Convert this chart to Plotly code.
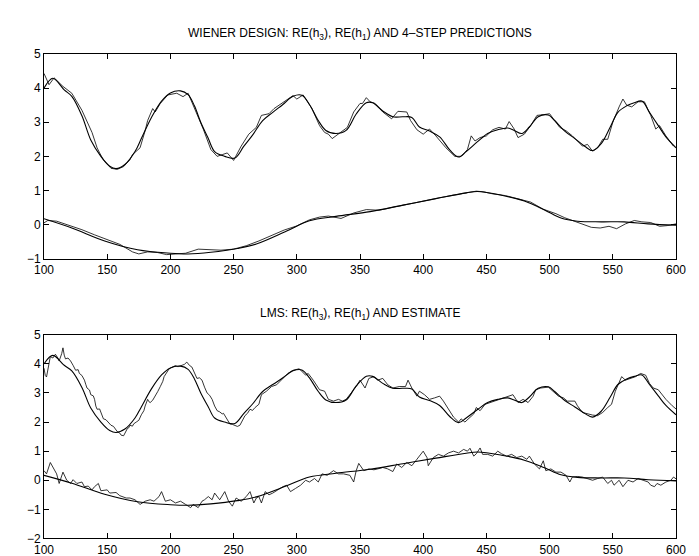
import plotly.graph_objects as go

# ---------------- data ----------------
H3_X = [100,107,116,122,130,137,145,152,157,164,172,177,185,193,200,208,214,219,224,230,235,243,251,258,265,273,281,289,297,304,310,317,323,331,339,347,355,360,368,376,384,391,397,405,413,421,428,434,443,451,459,467,472,478,484,491,499,504,512,520,528,534,541,548,554,561,567,573,579,586,592,600]
H3_Y = [4.00,4.29,3.95,3.76,3.19,2.48,2.00,1.71,1.64,1.76,2.14,2.52,3.14,3.62,3.86,3.92,3.81,3.48,3.00,2.52,2.14,2.00,1.95,2.29,2.62,3.05,3.29,3.52,3.76,3.79,3.52,3.05,2.76,2.67,2.76,3.24,3.57,3.57,3.33,3.16,3.16,3.14,2.86,2.74,2.57,2.19,1.98,2.14,2.43,2.67,2.78,2.83,2.76,2.67,2.86,3.16,3.21,3.05,2.74,2.52,2.29,2.17,2.38,2.86,3.29,3.48,3.57,3.62,3.29,2.90,2.57,2.25]

H1_X = [100,122,148,174,200,214,232,253,268,292,310,331,358,384,410,434,443,462,480,496,509,522,541,559,578,600]
H1_Y = [0.17,-0.10,-0.48,-0.74,-0.84,-0.86,-0.81,-0.70,-0.57,-0.19,0.11,0.24,0.38,0.57,0.76,0.93,0.97,0.86,0.69,0.43,0.19,0.10,0.08,0.08,0.02,-0.02]

# Wiener 4-step predictions
P3_X = [100,104,108,115,122,130,138,142,144,147,153,158,163,168,170,176,180,182,186,188,192,198,205,210,214,220,226,232,237,241,245,250,256,262,268,272,278,282,290,297,300,305,312,318,322,325,328,335,340,345,350,352,355,358,362,368,375,380,387,390,395,400,405,410,418,425,430,435,438,441,445,450,455,460,465,468,472,475,480,485,490,495,500,503,508,513,518,522,526,530,534,538,542,546,550,555,558,561,565,570,575,580,584,587,592,598]
P3_Y = [4.43,4.10,4.30,4.05,3.85,3.35,2.70,2.25,2.10,1.90,1.65,1.62,1.70,1.90,2.05,2.25,2.75,3.05,3.40,3.30,3.55,3.80,3.85,3.75,3.85,3.35,2.80,2.20,2.00,2.05,2.10,1.88,2.30,2.65,2.85,3.20,3.25,3.40,3.60,3.78,3.68,3.80,3.40,2.90,2.70,2.65,2.52,2.70,2.85,3.30,3.55,3.55,3.72,3.60,3.55,3.30,3.10,3.32,3.30,3.05,2.78,2.65,2.80,2.60,2.25,2.00,2.00,2.20,2.60,2.45,2.55,2.60,2.78,2.85,2.80,3.02,2.80,2.55,2.65,2.90,3.20,3.22,3.25,3.10,2.85,2.75,2.60,2.45,2.30,2.35,2.15,2.25,2.50,2.50,3.00,3.45,3.68,3.50,3.45,3.60,3.60,3.20,2.80,2.90,2.60,2.30]

P1_X = [100,103,110,120,130,140,150,160,170,175,182,190,197,205,212,222,230,240,250,260,270,280,290,300,310,318,325,335,345,355,365,375,385,395,405,415,425,435,442,448,455,465,475,485,495,505,512,520,527,533,540,547,553,560,567,573,580,587,593,600]
P1_Y = [0.05,0.12,0.10,-0.02,-0.15,-0.30,-0.45,-0.58,-0.80,-0.86,-0.80,-0.82,-0.88,-0.86,-0.84,-0.72,-0.74,-0.75,-0.72,-0.62,-0.48,-0.32,-0.16,-0.04,0.14,0.22,0.25,0.18,0.34,0.44,0.42,0.50,0.58,0.66,0.73,0.80,0.87,0.93,0.98,0.96,0.90,0.85,0.76,0.66,0.45,0.32,0.20,0.10,0.00,-0.08,-0.10,-0.05,-0.12,0.02,0.12,0.08,0.06,-0.05,-0.03,0.02]

# LMS estimates
L3_X = [100,101,102,104,105,107,109,111,112,114,115,116,117,119,121,123,125,127,128,130,132,133,134,136,137,139,140,141,142,144,145,146,147,149,151,152,153,155,156,157,158,160,161,163,164,166,167,168,170,171,173,175,177,179,180,182,183,184,186,188,190,192,194,195,197,199,201,204,206,209,211,213,215,217,219,221,223,225,227,229,231,233,235,237,239,241,242,244,246,247,249,251,253,255,257,259,261,263,265,267,
        270,272,276,280,284,288,293,297,302,307,309,313,316,318,322,325,329,333,336,339,343,347,350,354,357,361,364,368,372,376,381,386,388,391,395,397,401,405,409,413,416,420,424,428,430,433,437,
        440,442,445,449,453,457,461,465,468,471,475,479,483,487,489,493,499,503,507,511,514,520,522,526,530,534,538,542,546,549,552,557,560,565,568,572,576,579,582,586,589,592,597,600]
L3_Y = [3.85,3.60,3.55,3.95,4.25,4.20,4.33,4.20,4.10,4.35,4.55,4.30,4.17,4.20,4.10,3.95,3.78,3.80,3.67,3.60,3.44,3.30,3.17,3.10,2.94,2.90,2.78,2.55,2.44,2.45,2.33,2.25,2.11,2.08,2.00,1.95,1.89,1.85,1.78,1.72,1.67,1.62,1.55,1.53,1.62,1.78,1.80,1.89,1.86,1.94,2.00,2.06,2.25,2.39,2.55,2.78,2.70,2.67,2.75,2.89,3.05,3.22,3.40,3.56,3.70,3.83,3.88,3.94,3.90,3.94,3.98,4.06,3.95,3.89,3.70,3.50,3.52,3.44,3.20,3.00,2.92,2.78,2.55,2.39,2.35,2.28,2.30,2.17,2.05,1.94,1.92,1.89,1.85,1.89,2.05,2.22,2.30,2.44,2.40,2.50,
        2.61,2.94,3.06,3.22,3.28,3.44,3.67,3.78,3.83,3.61,3.67,3.44,3.22,3.11,3.06,2.78,2.72,2.78,2.72,2.78,3.00,3.22,3.44,3.17,3.50,3.56,3.44,3.50,3.28,3.17,3.22,3.22,3.44,3.17,2.89,3.06,2.94,2.78,2.83,2.89,2.72,2.44,2.17,2.00,2.11,2.00,2.17,
        2.28,2.50,2.39,2.61,2.67,2.72,2.78,2.83,2.89,2.94,2.67,2.78,2.67,2.89,3.11,3.17,3.20,3.06,2.89,2.83,2.72,2.72,2.56,2.33,2.28,2.24,2.22,2.33,2.50,2.61,3.06,3.56,3.44,3.50,3.56,3.67,3.61,3.33,3.17,3.11,2.94,2.78,2.56,2.45]

L1_X = [100,102,105,107,110,112,115,118,121,123,126,130,132,135,138,140,143,145,150,152,157,160,165,168,172,176,180,184,187,191,193,196,200,204,208,212,216,218,222,225,227,230,233,235,239,243,246,249,252,256,260,263,266,268,
        270,272,275,278,281,285,289,292,295,299,303,307,310,314,317,320,324,329,333,337,342,345,347,349,353,357,361,364,368,372,376,379,383,387,391,395,397,400,403,404,408,412,416,420,424,428,432,435,437,
        440,442,445,447,451,455,459,462,466,470,474,478,482,484,488,492,495,497,501,505,509,513,516,518,522,526,530,534,538,542,546,549,551,555,558,562,566,570,574,578,580,583,585,588,592,596,598,600]
L1_Y = [0.33,0.22,0.61,0.44,0.22,-0.11,0.28,0.00,-0.11,0.02,-0.11,-0.06,-0.22,-0.20,-0.33,-0.22,-0.11,-0.36,-0.33,-0.44,-0.42,-0.53,-0.61,-0.61,-0.67,-0.83,-0.72,-0.67,-0.72,-0.56,-0.39,-0.72,-0.67,-0.78,-0.72,-0.83,-0.94,-0.83,-0.94,-0.72,-0.67,-0.56,-0.67,-0.44,-0.67,-0.39,-0.72,-0.89,-0.61,-0.72,-0.56,-0.39,-0.78,-0.61,
        -0.56,-0.78,-0.39,-0.50,-0.44,-0.33,-0.22,-0.17,-0.39,-0.28,-0.17,0.00,-0.06,0.06,-0.06,0.22,0.17,0.33,0.22,0.22,0.17,-0.06,0.33,0.58,0.33,0.39,0.36,0.39,0.44,0.39,0.30,0.56,0.44,0.61,0.50,0.72,0.83,1.00,0.78,0.50,0.78,0.89,0.83,0.94,1.00,0.94,1.06,1.00,1.10,
        0.83,0.91,1.11,0.89,0.89,0.83,1.00,0.91,0.83,0.89,0.78,0.83,0.72,0.83,0.56,0.39,0.67,0.33,0.39,0.28,0.28,0.17,-0.06,0.11,0.13,0.11,0.06,0.00,0.06,0.11,-0.11,0.00,-0.17,0.00,-0.22,0.00,-0.06,0.06,0.00,-0.06,-0.17,-0.22,-0.11,-0.17,-0.06,0.00,0.11,0.05]

X_TICKS = [100,150,200,250,300,350,400,450,500,550,600]
TITLE_TOP = "WIENER DESIGN: RE(h<sub>3</sub>), RE(h<sub>1</sub>) AND 4\u2013STEP PREDICTIONS"
TITLE_BOT = "LMS: RE(h<sub>3</sub>), RE(h<sub>1</sub>) AND ESTIMATE"

FONT = "Liberation Sans, Arial, sans-serif"

fig = go.Figure()

def add(x, y, xa, ya, w=1.0, smooth=False):
    fig.add_trace(go.Scatter(x=x, y=y, xaxis=xa, yaxis=ya, mode="lines",
                             line=dict(color="black", width=w,
                                       shape="spline" if smooth else "linear"),
                             showlegend=False, hoverinfo="skip"))

# top panel
add(H3_X, H3_Y, "x", "y", 1.1, True)
add(H1_X, H1_Y, "x", "y", 1.1, True)
add(P3_X, P3_Y, "x", "y", 0.8)
add(P1_X, P1_Y, "x", "y", 0.8)
# bottom panel
add(H3_X, H3_Y, "x2", "y2", 1.1, True)
add(H1_X, H1_Y, "x2", "y2", 1.1, True)
add(L3_X, L3_Y, "x2", "y2", 0.8)
add(L1_X, L1_Y, "x2", "y2", 0.8)

axis_common = dict(showline=True, linecolor="black", linewidth=1, mirror="ticks",
                   ticks="inside", ticklen=5, tickcolor="black", showgrid=False,
                   zeroline=False, tickfont=dict(family=FONT, size=12, color="black"))

H = 556
def dom(top_px, bot_px):
    return [(H - bot_px) / H, (H - top_px) / H]

fig.update_layout(
    width=699, height=556,
    margin=dict(l=36, r=31, t=0, b=0),
    paper_bgcolor="white", plot_bgcolor="white",
    font=dict(family=FONT, size=12, color="black"),
    xaxis=dict(domain=[0, 1], range=[100, 600], tickvals=X_TICKS, anchor="y", **axis_common),
    yaxis=dict(domain=dom(40, 250), range=[-1, 5], dtick=1, anchor="x", **axis_common),
    xaxis2=dict(domain=[0, 1], range=[100, 600], tickvals=X_TICKS, anchor="y2", **axis_common),
    yaxis2=dict(domain=dom(328, 537), range=[-2, 5], dtick=1, anchor="x2", **axis_common),
    annotations=[
        dict(text=TITLE_TOP, x=0.5, y=(H - 19) / H, xref="paper", yref="paper",
             showarrow=False, xanchor="center", yanchor="middle",
             font=dict(family=FONT, size=12, color="black")),
        dict(text=TITLE_BOT, x=0.5, y=(H - 307) / H, xref="paper", yref="paper",
             showarrow=False, xanchor="center", yanchor="middle",
             font=dict(family=FONT, size=12, color="black")),
    ],
)

fig.write_html("out.html")
